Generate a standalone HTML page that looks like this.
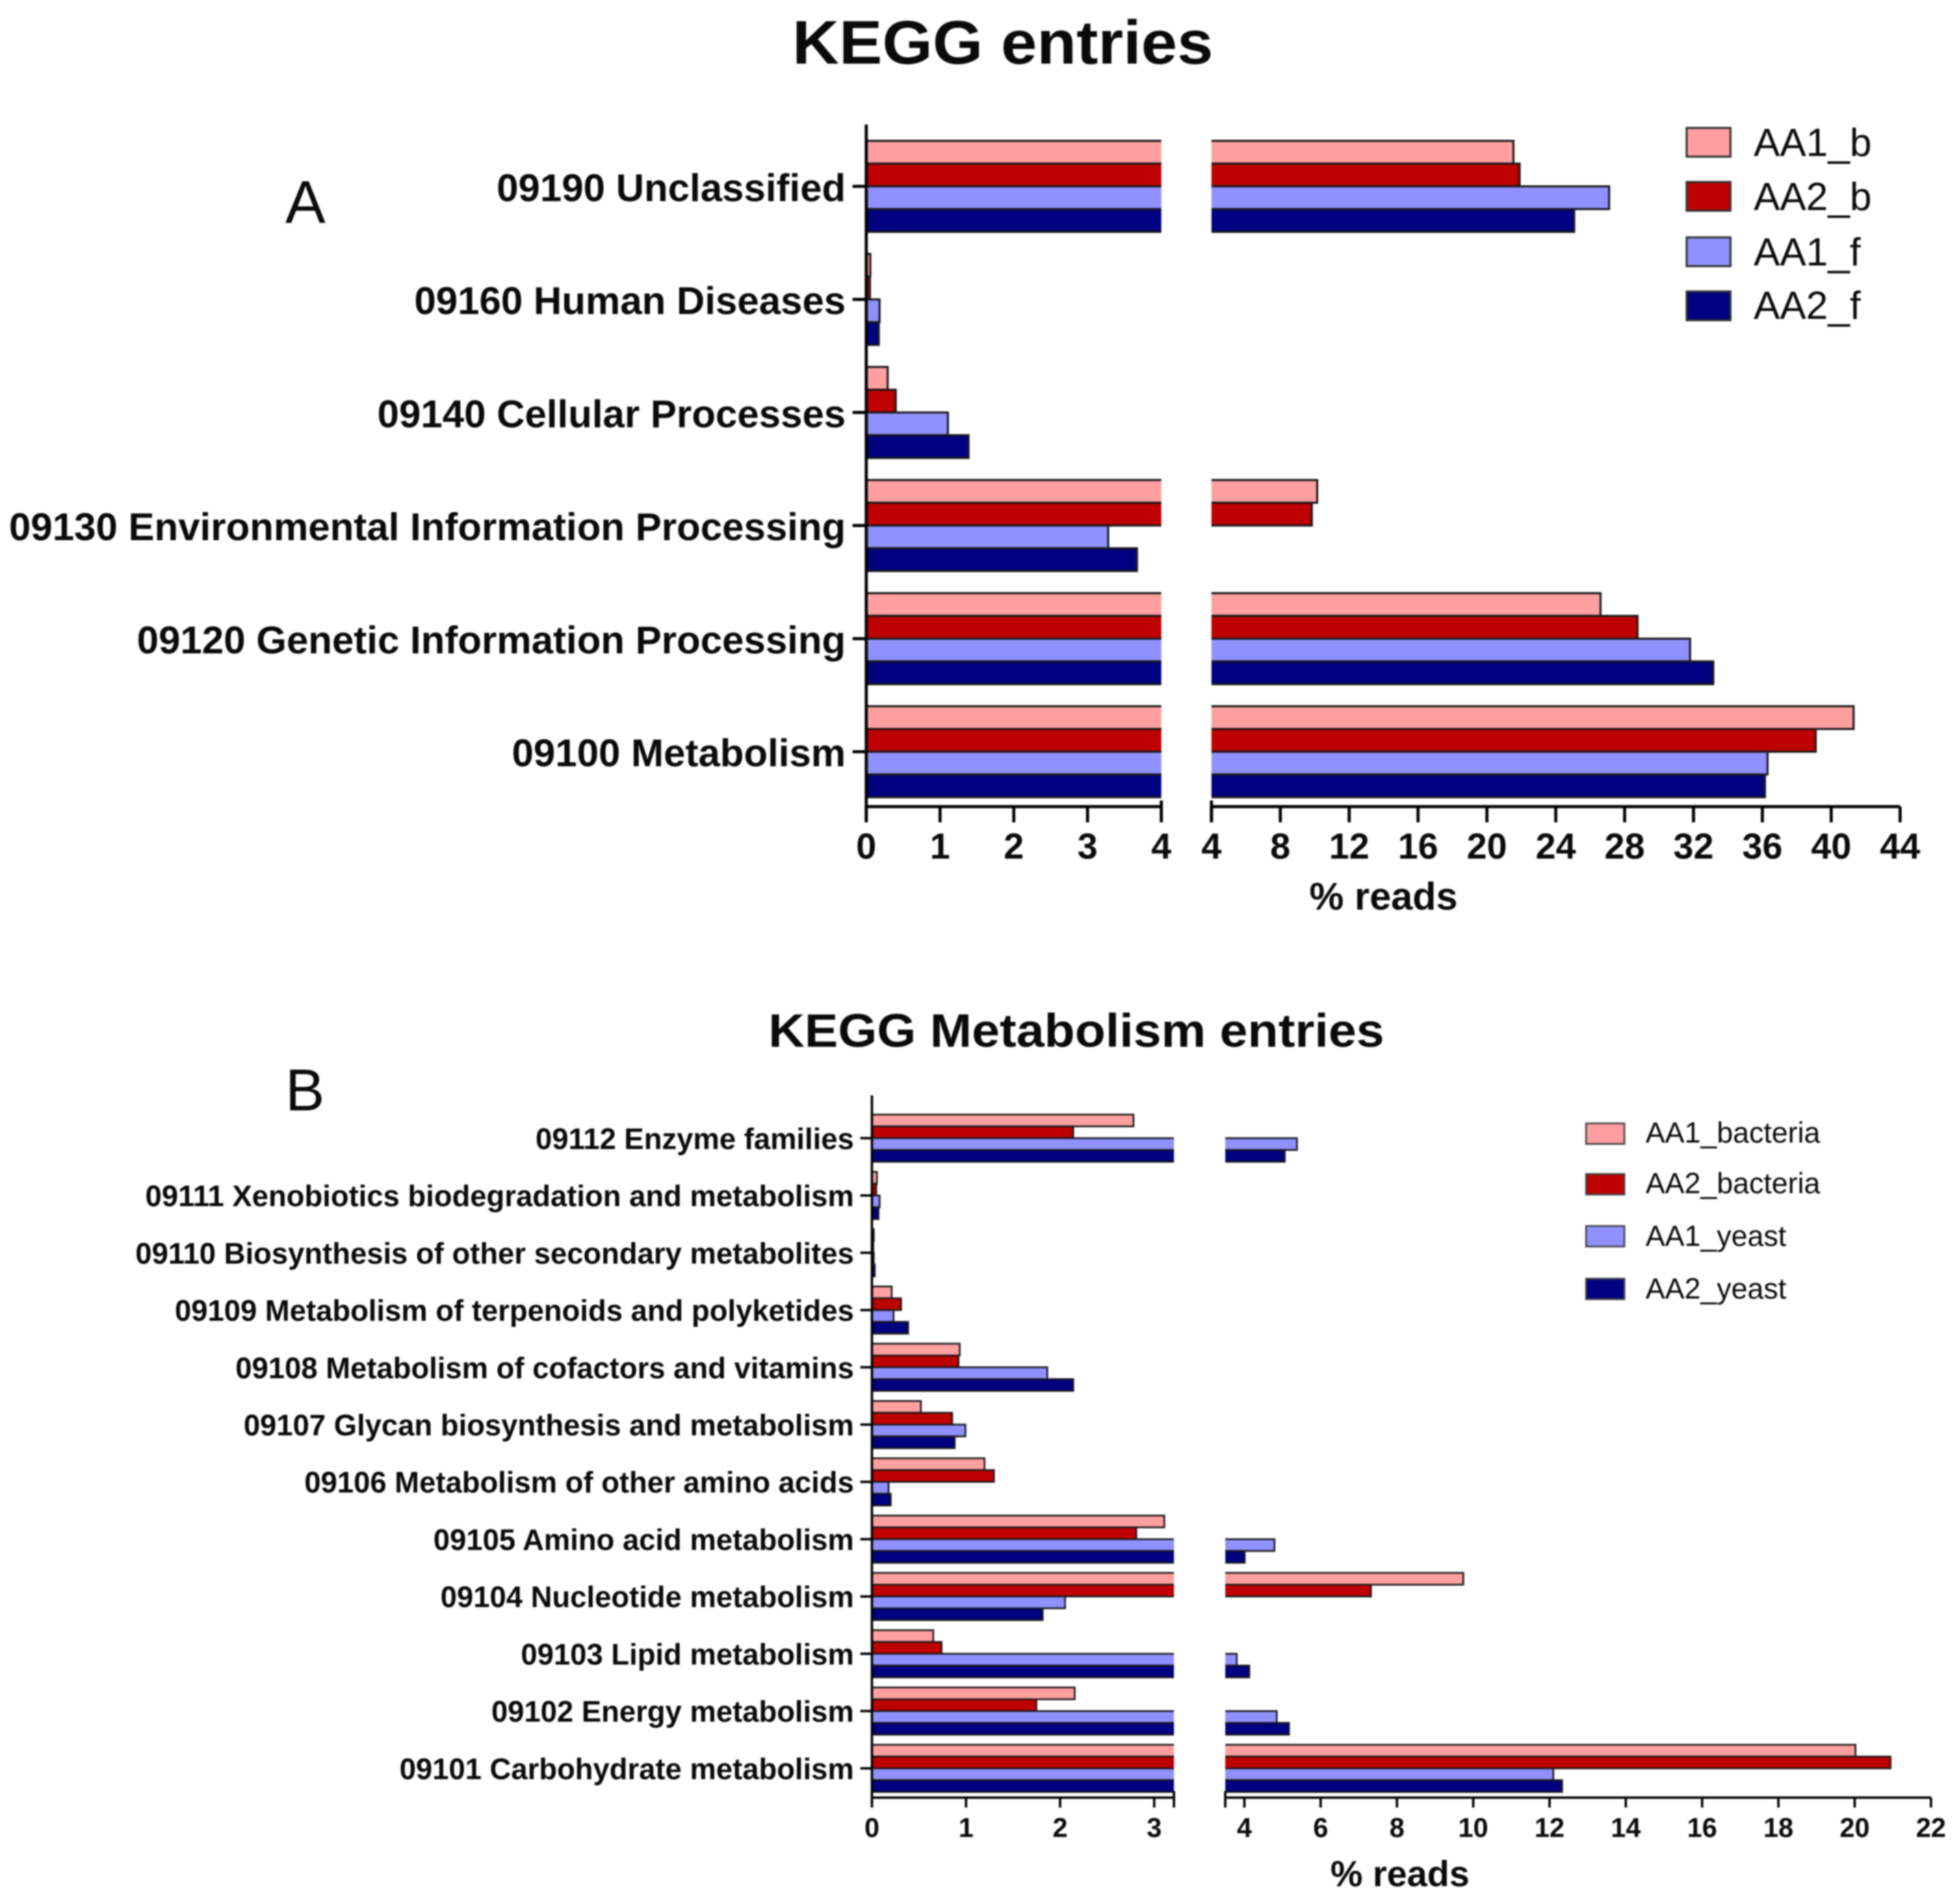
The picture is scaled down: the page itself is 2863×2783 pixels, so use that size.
<!DOCTYPE html>
<html lang="en">
<head>
<meta charset="utf-8">
<title>KEGG entries</title>
<style>
html,body{margin:0;padding:0;background:#fff;width:2863px;height:2783px;overflow:hidden}
svg{display:block;filter:blur(1.1px)}
text{font-family:"Liberation Sans",Arial,sans-serif;fill:#0a0a0a}
.b{font-weight:700}
</style>
</head>
<body>
<svg id="chart" xmlns="http://www.w3.org/2000/svg" width="2863" height="2783" viewBox="0 0 2863 2783">
  <text class="b" x="1158" y="93" font-size="90" textLength="615" lengthAdjust="spacingAndGlyphs">KEGG entries</text>
  <text x="417" y="326" font-size="88">A</text>
  <text class="b" x="2022" y="1329.5" font-size="56.5" text-anchor="middle">% reads</text>

  <text class="b" x="1123" y="1530" font-size="69" textLength="900" lengthAdjust="spacingAndGlyphs">KEGG Metabolism entries</text>
  <text x="417" y="1623" font-size="86">B</text>
  <text class="b" x="2046" y="2757" font-size="53" text-anchor="middle">% reads</text>

  <g>
    <rect x="2465" y="187" width="64" height="42" fill="#ff9f9f" stroke="#333" stroke-width="3"/>
    <text x="2563" y="228" font-size="57.4">AA1_b</text>
    <rect x="2465" y="266" width="64" height="42" fill="#bf0000" stroke="#333" stroke-width="3"/>
    <text x="2563" y="307" font-size="57.4">AA2_b</text>
    <rect x="2465" y="347" width="64" height="42" fill="#9090ff" stroke="#333" stroke-width="3"/>
    <text x="2563" y="388" font-size="57.4">AA1_f</text>
    <rect x="2465" y="426" width="64" height="42" fill="#000080" stroke="#333" stroke-width="3"/>
    <text x="2563" y="466" font-size="57.4">AA2_f</text>
  </g>

  <g>
    <rect x="2318" y="1642" width="56" height="30" fill="#ff9f9f" stroke="#444" stroke-width="2.5"/>
    <text x="2405" y="1670" font-size="42.5">AA1_bacteria</text>
    <rect x="2318" y="1716" width="56" height="30" fill="#bf0000" stroke="#444" stroke-width="2.5"/>
    <text x="2405" y="1744" font-size="42.5">AA2_bacteria</text>
    <rect x="2318" y="1792" width="56" height="30" fill="#9090ff" stroke="#444" stroke-width="2.5"/>
    <text x="2405" y="1821" font-size="42.5">AA1_yeast</text>
    <rect x="2318" y="1869" width="56" height="30" fill="#000080" stroke="#444" stroke-width="2.5"/>
    <text x="2405" y="1898" font-size="42.5">AA2_yeast</text>
  </g>
</svg>
<script>
// Panel A data (categories listed top to bottom)
const categoriesA = ["09190 Unclassified","09160 Human Diseases","09140 Cellular Processes","09130 Environmental Information Processing","09120 Genetic Information Processing","09100 Metabolism"];
const aa1BacteriaA = [21.54,0.055,0.29,10.14,26.6,41.3];
const aa2BacteriaA = [21.9,0.05,0.40,9.83,28.75,39.1];
const aa1YeastA = [27.1,0.18,1.107,3.28,31.8,36.3];
const aa2YeastA = [25.07,0.17,1.386,3.67,33.15,36.15];
const leftTicksA = [0,1,2,3,4];
const rightTicksA = [4,8,12,16,20,24,28,32,36,40,44];

// Panel B data (categories listed top to bottom)
const categoriesB = ["09112 Enzyme families","09111 Xenobiotics biodegradation and metabolism","09110 Biosynthesis of other secondary metabolites","09109 Metabolism of terpenoids and polyketides","09108 Metabolism of cofactors and vitamins","09107 Glycan biosynthesis and metabolism","09106 Metabolism of other amino acids","09105 Amino acid metabolism","09104 Nucleotide metabolism","09103 Lipid metabolism","09102 Energy metabolism","09101 Carbohydrate metabolism"];
const aa1BacteriaB = [2.78,0.053,0.02,0.21,0.933,0.52,1.197,3.108,9.74,0.652,2.155,20.02];
const aa2BacteriaB = [2.14,0.046,0.015,0.31,0.92,0.853,1.297,2.81,7.32,0.74,1.748,20.94];
const aa1YeastB = [5.38,0.082,0.02,0.23,1.864,0.994,0.177,4.79,2.053,3.80,4.85,12.1];
const aa2YeastB = [5.06,0.07,0.03,0.385,2.14,0.88,0.2,4.01,1.815,4.13,5.17,12.33];
const leftTicksB = [0,1,2,3];
const rightTicksB = [4,6,8,10,12,14,16,18,20,22];

const seriesColors = ["#ff9f9f","#bf0000","#9090ff","#000080"];
const NS = "http://www.w3.org/2000/svg";
const svg = document.getElementById("chart");

function make(tag, attrs, parent) {
  const node = document.createElementNS(NS, tag);
  for (const k in attrs) node.setAttribute(k, attrs[k]);
  parent.appendChild(node);
  return node;
}

function drawPanel(cfg) {
  const root = make("g", {}, svg);
  
  

  const xLeft = v => cfg.x0 + v * cfg.leftScale;
  const xRight = v => cfg.rightStart + (v - cfg.breakEnd) * cfg.rightScale;
  const leftEnd = xLeft(cfg.breakStart);
  const yCenter = i => cfg.yFirst + i * cfg.yStep;

  cfg.categories.forEach((cat, i) => {
    const label = make("text", {x: cfg.labelRight, y: yCenter(i) + cfg.labelDrop, "font-size": cfg.labelSize, "text-anchor": "end", "class": "b"}, root);
    label.textContent = cat;
    
    

    cfg.series.forEach((values, s) => {
      const v = values[i];
      const y = yCenter(i) - cfg.groupH / 2 + s * cfg.groupH / 4;
      const h = cfg.groupH / 4;
      const broken = v > cfg.breakStart;
      const xe = broken ? leftEnd : xLeft(v);

      const bar = make("rect", {x: cfg.x0, y: y, width: Math.max(xe - cfg.x0, 0), height: h, fill: seriesColors[s]}, root);
      
      

      const edge = make("path", {d: broken
        ? `M${cfg.x0} ${y}H${xe}M${cfg.x0} ${y + h}H${xe}`
        : `M${cfg.x0} ${y}H${xe}V${y + h}H${cfg.x0}`,
        fill: "none", stroke: "#1a1a1a", "stroke-width": cfg.barStroke}, root);
      
      

      if (broken) {
        const xr = xRight(v);
        const barR = make("rect", {x: cfg.rightStart, y: y, width: xr - cfg.rightStart, height: h, fill: seriesColors[s]}, root);
        
        

        const edgeR = make("path", {d: `M${cfg.rightStart} ${y}H${xr}V${y + h}H${cfg.rightStart}`,
          fill: "none", stroke: "#1a1a1a", "stroke-width": cfg.barStroke}, root);
        
        
      }
    });

    const tick = make("line", {x1: cfg.x0 - cfg.yTickLen, x2: cfg.x0, y1: yCenter(i), y2: yCenter(i), stroke: "#000", "stroke-width": cfg.axisW}, root);
    
    
  });

  const yAxis = make("line", {x1: cfg.x0, x2: cfg.x0, y1: cfg.axisTop, y2: cfg.xTickBottom, stroke: "#000", "stroke-width": cfg.axisW}, root);
  
  

  const xAxisL = make("line", {x1: cfg.x0, x2: leftEnd, y1: cfg.axisY, y2: cfg.axisY, stroke: "#000", "stroke-width": cfg.axisW}, root);
  
  

  const xAxisR = make("line", {x1: cfg.rightStart, x2: xRight(cfg.rightTicks[cfg.rightTicks.length - 1]), y1: cfg.axisY, y2: cfg.axisY, stroke: "#000", "stroke-width": cfg.axisW}, root);
  
  

  [leftEnd, cfg.rightStart].forEach(px => {
    const cap = make("line", {x1: px, x2: px, y1: cfg.capTop, y2: cfg.xTickBottom, stroke: "#000", "stroke-width": cfg.axisW}, root);
    
    
  });

  const addTick = (px, val) => {
    const t = make("line", {x1: px, x2: px, y1: cfg.axisY, y2: cfg.xTickBottom, stroke: "#000", "stroke-width": cfg.axisW}, root);
    
    
    const lab = make("text", {x: px, y: cfg.tickBaseline, "font-size": cfg.tickSize, "text-anchor": "middle", "class": "b"}, root);
    lab.textContent = val;
    
    
  };
  cfg.leftTicks.forEach(v => addTick(xLeft(v), v));
  cfg.rightTicks.forEach(v => addTick(xRight(v), v));
}

drawPanel({
  name: "panel-a-plot",
  categories: categoriesA,
  series: [aa1BacteriaA, aa2BacteriaA, aa1YeastA, aa2YeastA],
  leftTicks: leftTicksA, rightTicks: rightTicksA,
  x0: 1266, leftScale: 107.8, breakStart: 4, breakEnd: 4, rightStart: 1770.5, rightScale: 25.16,
  yFirst: 272.4, yStep: 165.26, groupH: 133,
  labelRight: 1236, labelDrop: 21.5, labelSize: 57,
  barStroke: 3, axisW: 4.5, yTickLen: 20,
  axisTop: 182, axisY: 1179, capTop: 1170, xTickBottom: 1202,
  tickBaseline: 1255, tickSize: 53
});

drawPanel({
  name: "panel-b-plot",
  categories: categoriesB,
  series: [aa1BacteriaB, aa2BacteriaB, aa1YeastB, aa2YeastB],
  leftTicks: leftTicksB, rightTicks: rightTicksB,
  x0: 1274.3, leftScale: 137.5, breakStart: 3.21, breakEnd: 3.5, rightStart: 1790.7, rightScale: 55.75,
  yFirst: 1663.6, yStep: 83.74, groupH: 69,
  labelRight: 1248, labelDrop: 15.7, labelSize: 43.15,
  barStroke: 2.5, axisW: 3.5, yTickLen: 17,
  axisTop: 1601, axisY: 2627.5, capTop: 2618, xTickBottom: 2642,
  tickBaseline: 2685, tickSize: 39.5
});
</script>
</body>
</html>
